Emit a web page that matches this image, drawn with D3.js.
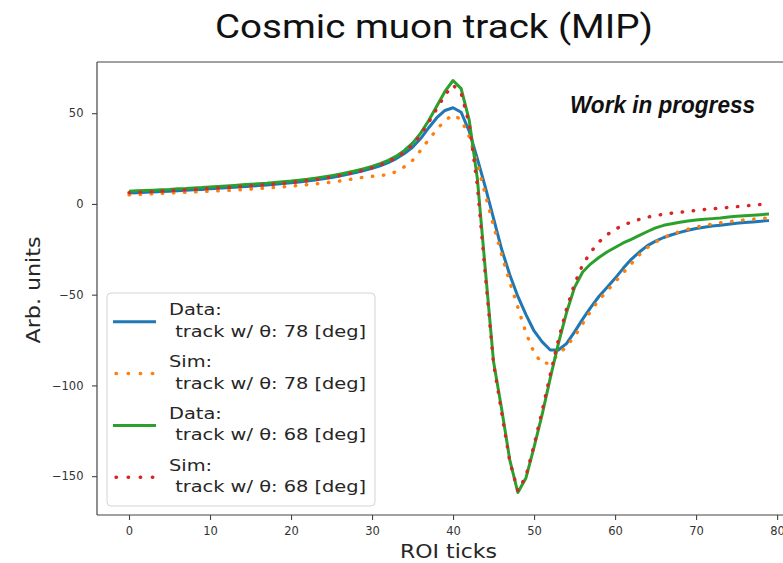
<!DOCTYPE html>
<html>
<head>
<meta charset="utf-8">
<script src="https://cdn.jsdelivr.net/npm/d3@7"></script>
<style>
  html, body { margin: 0; padding: 0; background: #ffffff; }
  svg { display: block; }
  text { white-space: pre; }
</style>
</head>
<body>
<svg id="chart" width="783" height="563"></svg>
<script>
// ROI tick index (x) for every sample
const roiTicks = d3.range(80);

// Pulse shapes, arbitrary units, one value per ROI tick
const dataTheta78 = [
  6.0, 6.2, 6.4, 6.6, 6.8, 7.0, 7.3, 7.5, 7.8, 8.0,
  8.3, 8.6, 8.9, 9.2, 9.5, 9.8, 10.1, 10.4, 10.8, 11.2,
  11.6, 12.1, 12.6, 13.2, 13.9, 14.6, 15.4, 16.3, 17.3, 18.4,
  19.6, 21.0, 22.8, 25.0, 27.8, 31.2, 36.0, 42.0, 47.5, 51.5,
  53.0, 50.5, 40.0, 25.0, 9.0, -8.0, -25.0, -39.0, -51.0, -61.0,
  -70.0, -76.0, -80.5, -80.5, -77.0, -70.5, -63.5, -57.0, -51.0, -46.0,
  -41.0, -35.5, -30.5, -26.5, -23.0, -20.5, -18.5, -17.0, -15.7, -14.5,
  -13.5, -12.8, -12.2, -11.7, -11.2, -10.7, -10.3, -9.9, -9.5, -9.2
];
const simTheta78 = [
  5.0, 5.2, 5.4, 5.6, 5.8, 6.0, 6.2, 6.4, 6.6, 6.8,
  7.0, 7.2, 7.4, 7.6, 7.9, 8.2, 8.5, 8.8, 9.1, 9.4,
  9.8, 10.2, 10.6, 11.0, 11.5, 12.0, 12.6, 13.3, 14.0, 14.7,
  15.2, 15.6, 16.2, 17.8, 20.5, 24.0, 29.5, 35.5, 41.0, 46.0,
  49.0, 46.5, 37.0, 22.0, 5.0, -12.0, -28.0, -43.0, -57.0, -71.0,
  -82.0, -88.0, -87.5, -83.0, -78.5, -73.0, -66.0, -59.0, -53.0, -48.0,
  -43.0, -38.0, -33.0, -28.0, -24.0, -21.0, -18.5, -16.7, -15.2, -13.9,
  -12.8, -11.9, -11.1, -10.4, -9.8, -9.3, -8.8, -8.4, -8.0, -7.7
];
const dataTheta68 = [
  7.0, 7.2, 7.4, 7.6, 7.8, 8.0, 8.3, 8.5, 8.8, 9.0,
  9.3, 9.6, 9.9, 10.2, 10.5, 10.8, 11.1, 11.4, 11.8, 12.2,
  12.6, 13.1, 13.6, 14.2, 14.9, 15.6, 16.4, 17.3, 18.3, 19.4,
  20.7, 22.2, 24.0, 26.3, 29.5, 33.5, 39.0, 46.0, 54.0, 62.0,
  68.0, 63.5, 46.0, 14.0, -37.0, -87.0, -113.0, -141.0, -159.0, -151.0,
  -134.0, -116.0, -96.0, -77.0, -60.0, -46.0, -37.5, -33.0, -29.5, -26.5,
  -24.0, -21.5, -19.5, -17.3, -15.2, -13.2, -11.8, -10.9, -10.1, -9.4,
  -8.9, -8.5, -8.1, -7.7, -7.2, -6.8, -6.5, -6.2, -5.9, -5.6
];
const simTheta68 = [
  6.2, 6.4, 6.6, 6.8, 7.0, 7.2, 7.5, 7.7, 8.0, 8.2,
  8.5, 8.8, 9.1, 9.4, 9.7, 10.0, 10.3, 10.6, 11.0, 11.4,
  11.8, 12.3, 12.8, 13.4, 14.1, 14.8, 15.6, 16.5, 17.5, 18.6,
  19.9, 21.4, 23.2, 25.5, 28.6, 32.5, 38.0, 45.0, 52.5, 60.0,
  65.5, 61.0, 44.0, 10.0, -40.0, -88.0, -115.0, -142.0, -158.0, -150.0,
  -133.0, -114.0, -94.0, -75.0, -58.0, -44.0, -33.5, -26.5, -21.0, -17.0,
  -14.0, -11.7, -10.0, -8.5, -7.3, -6.4, -5.7, -5.1, -4.6, -4.1,
  -3.6, -3.1, -2.7, -2.3, -1.9, -1.5, -1.1, -0.7, -0.3, 0.1
];

const seriesNames = [
  ["Data:", " track w/ \u03b8: 78 [deg]"],
  ["Sim:", " track w/ \u03b8: 78 [deg]"],
  ["Data:", " track w/ \u03b8: 68 [deg]"],
  ["Sim:", " track w/ \u03b8: 68 [deg]"]
];
const seriesValues = [dataTheta78, simTheta78, dataTheta68, simTheta68];
const seriesColors = ["#1f77b4", "#ff7f0e", "#2ca02c", "#d62728"];
const seriesDotted = [false, true, false, true];

const xTicks = [0, 10, 20, 30, 40, 50, 60, 70, 80];
const yTicks = [-150, -100, -50, 0, 50];

const titleText = "Cosmic muon track (MIP)";
const xLabel = "ROI ticks";
const yLabel = "Arb. units";
const noteText = "Work in progress";

// ---- layout ----
const svg = d3.select("#chart");
const plot = { left: 97, right: 801, top: 62, bottom: 515 };
const tickFont = "'DejaVu Sans', sans-serif";

const x = d3.scaleLinear().domain([-3.95, 82.95]).range([plot.left, plot.right]);
const y = d3.scaleLinear().domain([-171.4, 78.2]).range([plot.bottom, plot.top]);

// stretch text horizontally to a given factor
function widen(sel, k) {
  sel.each(function () {
    const w = this.getComputedTextLength();
    this.setAttribute("textLength", w * k);
    this.setAttribute("lengthAdjust", "spacingAndGlyphs");
  });
}

svg.append("defs").append("clipPath").attr("id", "plot-clip")
  .append("rect")
  .attr("x", plot.left).attr("y", plot.top)
  .attr("width", plot.right - plot.left).attr("height", plot.bottom - plot.top);

// ---- curves ----
const line = d3.line()
  .x((d, i) => x(roiTicks[i]))
  .y(d => y(d));

const curves = svg.append("g").attr("clip-path", "url(#plot-clip)");
seriesValues.forEach((vals, k) => {
  const p = curves.append("path")
    .datum(vals)
    .attr("d", line)
    .attr("fill", "none")
    .attr("stroke", seriesColors[k])
    .attr("stroke-linejoin", "round");
  if (seriesDotted[k]) {
    p.attr("stroke-width", 3.4)
      .attr("stroke-linecap", "round")
      .attr("stroke-dasharray", "0.5 10.6");
  } else {
    p.attr("stroke-width", 3)
      .attr("stroke-linecap", "butt");
  }
});

// ---- axes ----
const xAxis = svg.append("g")
  .attr("transform", `translate(0,${plot.bottom})`)
  .call(d3.axisBottom(x).tickValues(xTicks).tickSize(5).tickPadding(6.5).tickSizeOuter(0));
const yAxis = svg.append("g")
  .attr("transform", `translate(${plot.left},0)`)
  .call(d3.axisLeft(y).tickValues(yTicks).tickSize(5).tickPadding(8.5).tickSizeOuter(0));

[xAxis, yAxis].forEach(g => {
  g.select(".domain").remove();
  g.selectAll(".tick line").attr("stroke", "#444").attr("stroke-width", 1.1);
  g.selectAll(".tick text")
    .attr("fill", "#333")
    .style("font-family", tickFont)
    .style("font-size", "11.5px");
});

// frame
const frame = svg.append("g").attr("stroke", "#444").attr("stroke-width", 1.2).attr("fill", "none");
frame.append("line").attr("x1", plot.left).attr("x2", plot.left).attr("y1", plot.top).attr("y2", plot.bottom);
frame.append("line").attr("x1", plot.left).attr("x2", plot.right).attr("y1", plot.bottom).attr("y2", plot.bottom);
frame.append("line").attr("x1", plot.left).attr("x2", plot.right).attr("y1", plot.top).attr("y2", plot.top);
frame.append("line").attr("x1", plot.right).attr("x2", plot.right).attr("y1", plot.top).attr("y2", plot.bottom);

// ---- labels ----
svg.append("text")
  .attr("x", 215).attr("y", 38)
  .attr("textLength", 438).attr("lengthAdjust", "spacingAndGlyphs")
  .style("font-family", "Roboto, sans-serif")
  .style("font-size", "33px")
  .attr("fill", "#111")
  .text(titleText);

svg.append("text")
  .attr("x", 448.5).attr("y", 558)
  .attr("text-anchor", "middle")
  .attr("textLength", 97).attr("lengthAdjust", "spacingAndGlyphs")
  .style("font-family", tickFont)
  .style("font-size", "20px")
  .attr("fill", "#262626")
  .text(xLabel);

svg.append("text")
  .attr("transform", "translate(40,290) rotate(-90)")
  .attr("text-anchor", "middle")
  .attr("textLength", 107).attr("lengthAdjust", "spacingAndGlyphs")
  .style("font-family", tickFont)
  .style("font-size", "20px")
  .attr("fill", "#262626")
  .text(yLabel);

svg.append("text")
  .attr("x", 570).attr("y", 113)
  .attr("textLength", 185).attr("lengthAdjust", "spacingAndGlyphs")
  .style("font-family", "'Liberation Sans', Arial, sans-serif")
  .style("font-weight", "bold")
  .style("font-style", "italic")
  .style("font-size", "24px")
  .attr("fill", "#111")
  .text(noteText);

// ---- legend ----
const legend = svg.append("g");
legend.append("rect")
  .attr("x", 107).attr("y", 293).attr("width", 268).attr("height", 213)
  .attr("rx", 4)
  .attr("fill", "#ffffff").attr("fill-opacity", 0.85)
  .attr("stroke", "#d4d4d4").attr("stroke-width", 1);

const rowY = d3.scaleLinear().domain([0, 3]).range([321.7, 477.3]);
seriesNames.forEach((lines, k) => {
  const cy = rowY(k);
  const h = legend.append("line")
    .attr("x1", 113).attr("x2", 156).attr("y1", cy).attr("y2", cy)
    .attr("stroke", seriesColors[k]);
  if (seriesDotted[k]) {
    h.attr("stroke-width", 3.4).attr("stroke-linecap", "round").attr("stroke-dasharray", "0.5 11.6")
      .attr("x1", 116);
  } else {
    h.attr("stroke-width", 3);
  }
  const t1 = legend.append("text")
    .attr("x", 169).attr("y", cy - 6.7)
    .style("font-family", tickFont).style("font-size", "16.3px")
    .attr("fill", "#262626")
    .text(lines[0]);
  const t2 = legend.append("text")
    .attr("x", 169).attr("y", cy + 15)
    .style("font-family", tickFont).style("font-size", "16.3px")
    .attr("fill", "#262626")
    .text(lines[1]);
  widen(t1, 1.19);
  widen(t2, 1.19);
});
</script>
</body>
</html>
